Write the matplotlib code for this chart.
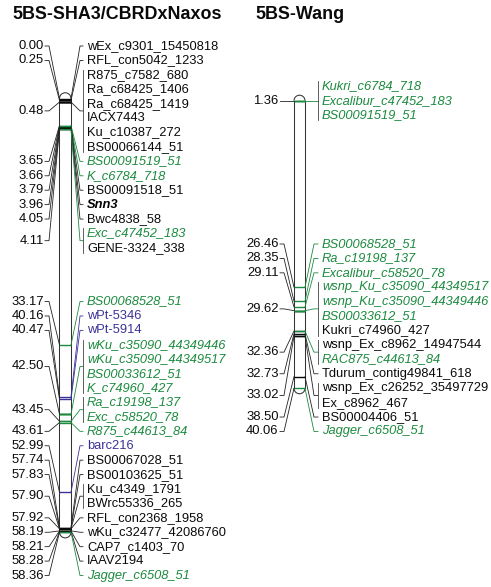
import matplotlib
matplotlib.use('Agg')
import matplotlib.pyplot as plt
from matplotlib.patches import Arc

plt.rcParams['font.family'] = ['Liberation Sans', 'DejaVu Sans']

# ---------------- data ----------------
left_title = "5BS-SHA3/CBRDxNaxos"
left_markers = ["wEx_c9301_15450818", "RFL_con5042_1233", "R875_c7582_680",
                "Ra_c68425_1406", "Ra_c68425_1419", "IACX7443", "Ku_c10387_272",
                "BS00066144_51", "BS00091519_51", "K_c6784_718", "BS00091518_51",
                "Snn3", "Bwc4838_58", "Exc_c47452_183", "GENE-3324_338",
                "BS00068528_51", "wPt-5346", "wPt-5914", "wKu_c35090_44349446",
                "wKu_c35090_44349517", "BS00033612_51", "K_c74960_427",
                "Ra_c19198_137", "Exc_c58520_78", "R875_c44613_84", "barc216",
                "BS00067028_51", "BS00103625_51", "Ku_c4349_1791", "BWrc55336_265",
                "RFL_con2368_1958", "wKu_c32477_42086760", "CAP7_c1403_70",
                "IAAV2194", "Jagger_c6508_51"]
left_pos = [0.00, 0.25, 0.48, 0.48, 0.48, 0.48, 0.48, 0.48, 3.65, 3.66, 3.79,
            3.96, 4.05, 4.11, 4.11, 33.17, 40.16, 40.47, 42.50, 42.50, 42.50,
            42.50, 43.45, 43.45, 43.61, 52.99, 57.74, 57.83, 57.90, 57.90,
            57.92, 58.19, 58.21, 58.28, 58.36]
left_kind = ["k", "k", "k", "k", "k", "k", "k", "k", "g", "g", "k",
             "s", "k", "g", "k", "g", "b", "b", "g", "g", "g",
             "g", "g", "g", "g", "b", "k", "k", "k", "k",
             "k", "k", "k", "k", "g"]

right_title = "5BS-Wang"
right_markers = ["Kukri_c6784_718", "Excalibur_c47452_183", "BS00091519_51",
                 "BS00068528_51", "Ra_c19198_137", "Excalibur_c58520_78",
                 "wsnp_Ku_c35090_44349517", "wsnp_Ku_c35090_44349446",
                 "BS00033612_51", "Kukri_c74960_427", "wsnp_Ex_c8962_14947544",
                 "RAC875_c44613_84", "Tdurum_contig49841_618",
                 "wsnp_Ex_c26252_35497729", "Ex_c8962_467", "BS00004406_51",
                 "Jagger_c6508_51"]
right_pos = [1.36, 1.36, 1.36, 26.46, 28.35, 29.11, 29.62, 29.62, 29.62, 29.62,
             32.36, 32.36, 32.73, 33.02, 33.02, 38.50, 40.06]
right_kind = ["g", "g", "g", "g", "g", "g", "g", "g", "g", "k",
              "k", "g", "k", "k", "k", "k", "g"]

COLORS = {"k": "#0a0a0a", "s": "#000000", "g": "#1b8a3e", "b": "#3b3399"}

# ---------------- layout ----------------
W, H = 491, 587
PX_PER_CM = 7.43
LABEL_STEP_PX = 14.42
LABEL_TOP_PX, LABEL_BOT_PX = 46, 576

fig = plt.figure(figsize=(W / 100, H / 100), dpi=100)


def make_axes(zero_px):
    ax = fig.add_axes([0, 0, 1, 1])
    ax.set_xlim(0, W)
    ax.set_ylim((H - zero_px) / PX_PER_CM, -zero_px / PX_PER_CM)
    ax.axis("off")
    ax.patch.set_alpha(0)
    return ax


def layout(pos, step, top_lim, bot_lim):
    groups = [[i, i] for i in range(len(pos))]

    def top_of(g):
        i, j = g
        cnt = j - i + 1
        t = (pos[i] + pos[j]) / 2 - (cnt - 1) * step / 2
        t = max(t, top_lim)
        t = min(t, bot_lim - (cnt - 1) * step)
        return t

    changed = True
    while changed:
        changed = False
        tops = [top_of(g) for g in groups]
        for k in range(len(groups) - 1):
            end_k = tops[k] + (groups[k][1] - groups[k][0]) * step
            if end_k + step > tops[k + 1] + 1e-9:
                groups[k] = [groups[k][0], groups[k + 1][1]]
                del groups[k + 1]
                changed = True
                break
    ys = []
    for g in groups:
        t = top_of(g)
        for m in range(g[1] - g[0] + 1):
            ys.append(t + m * step)
    return ys


def draw_map(zero_px, names, pos, kind, geo, title, title_x):
    ax = make_axes(zero_px)
    step = LABEL_STEP_PX / PX_PER_CM
    top_lim = (LABEL_TOP_PX - zero_px) / PX_PER_CM
    bot_lim = (LABEL_BOT_PX - zero_px) / PX_PER_CM
    ys = layout(pos, step, top_lim, bot_lim)

    c0, c1 = geo["c0"], geo["c1"]
    lw_c = 0.75
    oc = "#333333"
    ax.plot([c0, c0], [pos[0], pos[-1]], color=oc, lw=lw_c)
    ax.plot([c1, c1], [pos[0], pos[-1]], color=oc, lw=lw_c)
    rh = (c1 - c0) / PX_PER_CM
    ax.add_patch(Arc(((c0 + c1) / 2, pos[0]), c1 - c0, rh, theta1=180, theta2=360,
                     color=oc, lw=lw_c))
    ax.add_patch(Arc(((c0 + c1) / 2, pos[-1]), c1 - c0, rh, theta1=0, theta2=180,
                     color=oc, lw=lw_c))

    # marker lines across chromosome (black first, coloured on top)
    order = sorted(range(len(pos)), key=lambda i: 0 if kind[i] in "ks" else 1)
    for i in order:
        ax.plot([c0, c1], [pos[i], pos[i]], color=COLORS[kind[i]], lw=1.0,
                solid_capstyle="butt")

    # groups of identical positions
    groups = []
    for i in range(len(pos)):
        if groups and pos[groups[-1][0]] == pos[i]:
            groups[-1].append(i)
        else:
            groups.append([i])

    for g in groups:
        yl = sum(ys[i] for i in g) / len(g)
        p = pos[g[0]]
        # left side: position label
        ax.plot([geo["lt0"], geo["lt1"], c0], [yl, yl, p], color="#222222", lw=0.6)
        ax.text(geo["cm_right"], yl, f"{p:.2f}", ha="right", va="center",
                fontsize=9.4, color="#0a0a0a")
        # right side
        colored = [kind[i] for i in g if kind[i] in "gb"]
        col = COLORS[colored[0]] if colored else "#222222"
        ax.plot([c1, geo["rd"], geo["rt"]], [p, yl, yl], color=col, lw=0.6)
        if len(g) > 1:
            ax.plot([geo["rt"], geo["rt"]], [ys[g[0]] - 5 / PX_PER_CM,
                                               ys[g[-1]] + 5 / PX_PER_CM],
                    color="#444444", lw=0.6)
        for i in g:
            k = kind[i]
            style = "italic" if k in "gs" else "normal"
            weight = "bold" if k == "s" else "normal"
            ax.text(geo["tx"], ys[i], names[i], ha="left", va="center",
                    fontsize=9.3, color=COLORS[k], style=style, fontweight=weight)

    fig.text(title_x / W, 1 - 14.5 / H, title, ha="left", va="center",
             fontsize=12.9, fontweight="bold", color="#0a0a0a")


left_geo = {"cm_right": 44, "lt0": 45, "lt1": 49, "c0": 59.5, "c1": 71,
            "rd": 80, "rt": 83, "tx": 87}
right_geo = {"cm_right": 278.5, "lt0": 280, "lt1": 284, "c0": 294, "c1": 305,
             "rd": 314, "rt": 318, "tx": 322}

draw_map(98.5, left_markers, left_pos, left_kind, left_geo, left_title, 12)
draw_map(90.6, right_markers, right_pos, right_kind, right_geo, right_title, 255)

fig.savefig("out.png", dpi=100, facecolor="white")
